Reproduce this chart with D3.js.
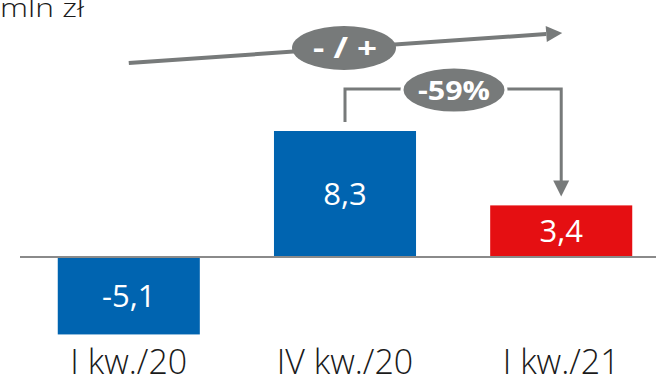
<!DOCTYPE html>
<html><head><meta charset="utf-8">
<script src="https://cdn.jsdelivr.net/npm/d3@7"></script>
<style>html,body{margin:0;padding:0;background:#fff;overflow:hidden}svg{display:block}</style>
</head><body>
<svg id="chart" width="656" height="377"></svg>
<script>
const categories = ["I kw./20", "IV kw./20", "I kw./21"];
const values = [-5.1, 8.3, 3.4];
const barColors = ["#0064b0", "#0064b0", "#e50f12"];
const valueLabels = ["-5,1", "8,3", "3,4"];
const unitLabel = "mln zł";
const trendLabel = "- / +";
const changeLabel = "-59%";

const svg = d3.select("#chart");
const gray = "#777a7a";
const font = "'Open Sans', sans-serif";

const x = d3.scaleBand().domain(categories).range([21, 669]).paddingInner(0.343).paddingOuter(0.17);
const y = d3.scaleLinear().domain([-6, 10]).range([348.1, 105.2]);

// unit
svg.append("text").attr("x", 0).attr("y", 17).attr("font-family", font).attr("font-weight", 300)
  .attr("font-size", 25).attr("fill", "#1a1a1a")
  .attr("textLength", 84).attr("lengthAdjust", "spacingAndGlyphs").text(unitLabel);

// bars
svg.selectAll("rect.bar").data(values).enter().append("rect")
  .attr("x", (d, i) => x(categories[i]))
  .attr("width", x.bandwidth())
  .attr("y", d => y(Math.max(0, d)))
  .attr("height", d => Math.abs(y(d) - y(0)))
  .attr("fill", (d, i) => barColors[i]);

// baseline
svg.append("line").attr("x1", 20).attr("x2", 656).attr("y1", y(0)).attr("y2", y(0))
  .attr("stroke", "#8a8a8a").attr("stroke-width", 2);

// value labels
svg.selectAll("text.val").data(values).enter().append("text")
  .attr("x", (d, i) => x(categories[i]) + x.bandwidth() / 2)
  .attr("y", d => (y(d) + y(0)) / 2 + 11)
  .attr("text-anchor", "middle").attr("font-family", font).attr("font-weight", 400)
  .attr("font-size", 31).attr("fill", "#fff")
  .text((d, i) => valueLabels[i]);

// category labels
const xAxis = d3.axisBottom(x).tickSize(0).tickPadding(0);
const ax = svg.append("g").attr("transform", `translate(0,${y(0)})`).call(xAxis);
ax.select(".domain").remove();
ax.selectAll("text").attr("y", 117).attr("dy", 0).attr("font-family", font).attr("font-weight", 300)
  .attr("font-size", 34).attr("fill", "#1a1a1a");

const cx = i => x(categories[i]) + x.bandwidth() / 2;

// trend arrow
const ax0 = cx(0), ay0 = 63, ax1 = cx(2) + 1, ay1 = 33;
const ang = Math.atan2(ay1 - ay0, ax1 - ax0);
const headLen = 16, headW = 8;
const bx = ax1 - headLen * Math.cos(ang), by = ay1 - headLen * Math.sin(ang);
svg.append("line").attr("x1", ax0).attr("y1", ay0).attr("x2", bx).attr("y2", by)
  .attr("stroke", gray).attr("stroke-width", 4);
svg.append("path").attr("d", d3.line()([
  [ax1, ay1],
  [bx + headW * Math.sin(ang), by - headW * Math.cos(ang)],
  [bx - headW * Math.sin(ang), by + headW * Math.cos(ang)]
]) + "Z").attr("fill", gray);
svg.append("ellipse").attr("cx", 344).attr("cy", 48).attr("rx", 52).attr("ry", 22).attr("fill", gray);
svg.append("text").attr("x", 345).attr("y", 58).attr("text-anchor", "middle")
  .attr("font-family", font).attr("font-weight", 700).attr("font-size", 28).attr("fill", "#fff")
  .attr("textLength", 64).attr("lengthAdjust", "spacingAndGlyphs")
  .text(trendLabel);

// change bracket
const bl = cx(1), br = cx(2), bt = 89;
const yl = y(values[1]) - 9, yr = y(values[2]) - 9;
svg.append("path").attr("d", d3.line()([[bl, yl], [bl, bt], [br, bt], [br, yr - 15]]))
  .attr("fill", "none").attr("stroke", gray).attr("stroke-width", 3);
svg.append("path").attr("d", d3.line()([[br, yr], [br - 8, yr - 16], [br + 8, yr - 16]]) + "Z").attr("fill", gray);
svg.append("ellipse").attr("cx", 454).attr("cy", 90).attr("rx", 52).attr("ry", 23)
  .attr("fill", gray).attr("stroke", "#fff").attr("stroke-width", 3);
svg.append("text").attr("x", 454).attr("y", 100).attr("text-anchor", "middle")
  .attr("font-family", font).attr("font-weight", 700).attr("font-size", 27).attr("fill", "#fff")
  .attr("textLength", 72).attr("lengthAdjust", "spacingAndGlyphs")
  .text(changeLabel);
</script>
</body></html>
